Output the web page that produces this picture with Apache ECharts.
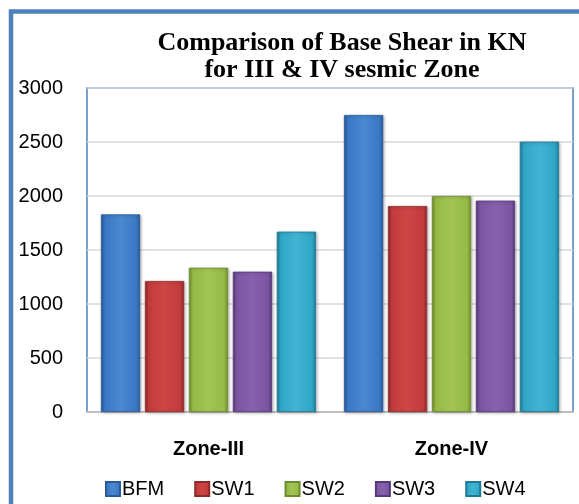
<!DOCTYPE html>
<html>
<head>
<meta charset="utf-8">
<script src="https://cdn.jsdelivr.net/npm/echarts@6/dist/echarts.min.js"></script>
<style>
html,body{margin:0;padding:0;background:#fff;}
#chart{width:579px;height:504px;}
</style>
</head>
<body>
<div id="chart"></div>
<script>
// ---- data ----
var categories = ['Zone-III', 'Zone-IV'];
var seriesNames = ['BFM', 'SW1', 'SW2', 'SW3', 'SW4'];
var BFM = [1830, 2750];
var SW1 = [1213, 1907];
var SW2 = [1336, 2000];
var SW3 = [1299, 1957];
var SW4 = [1670, 2503];
var yTicks = [0, 500, 1000, 1500, 2000, 2500, 3000];
var titleLines = ['Comparison of Base Shear in KN', 'for III & IV sesmic Zone'];

// ---- styles ----
var palette = [
  {base: '#3A78C4', edge: '#285A9C', light: '#4A88D2'},
  {base: '#C23B3B', edge: '#8F2A2A', light: '#CD4745'},
  {base: '#95BA46', edge: '#6E8C2F', light: '#A2C555'},
  {base: '#7B55A1', edge: '#563A78', light: '#8761AD'},
  {base: '#30A6C6', edge: '#1F7A94', light: '#42B4D3'}
];
function grad(p) {
  return new echarts.graphic.LinearGradient(0, 0, 1, 0, [
    {offset: 0, color: p.edge},
    {offset: 0.1, color: p.base},
    {offset: 0.5, color: p.light},
    {offset: 0.9, color: p.base},
    {offset: 1, color: p.edge}
  ]);
}
var dataArr = [BFM, SW1, SW2, SW3, SW4];
var series = dataArr.map(function (d, i) {
  return {
    name: seriesNames[i],
    type: 'bar',
    data: d,
    barGap: '12%',
    barCategoryGap: '11.5%',
    itemStyle: {
      color: grad(palette[i]),
      borderColor: palette[i].edge,
      borderWidth: 0.8,
      shadowColor: 'rgba(0,0,0,0.25)',
      shadowBlur: 3,
      shadowOffsetX: 1,
      shadowOffsetY: 1
    }
  };
});

var chart = echarts.init(document.getElementById('chart'), null, {renderer: 'canvas'});
chart.setOption({
  animation: false,
  backgroundColor: '#fff',
  color: palette.map(function (p) { return p.base; }),
  title: {
    text: titleLines.join('\n'),
    left: 337,
    textAlign: 'center',
    top: 25,
    textStyle: {
      fontFamily: 'Liberation Serif',
      fontWeight: 'bold',
      fontSize: 26,
      lineHeight: 27,
      color: '#000'
    }
  },
  graphic: [{
    type: 'rect',
    shape: {x: 11, y: 11.5, width: 700, height: 700},
    style: {fill: 'none', stroke: '#4F81BD', lineWidth: 4.5},
    silent: true
  }],
  legend: {
    data: seriesNames,
    left: 100,
    top: 474,
    itemWidth: 14,
    itemHeight: 14,
    itemGap: 30,
    icon: 'rect',
    textStyle: {fontFamily: 'Liberation Sans', fontSize: 20, color: '#000', padding: [0, 0, 0, -3]}
  },
  grid: {
    left: 87, top: 88, right: 6, bottom: 92,
    show: true,
    borderColor: '#4F81BD',
    borderWidth: 1.5,
    backgroundColor: 'transparent'
  },
  xAxis: {
    type: 'category',
    data: categories,
    axisLine: {show: true, lineStyle: {color: '#BFBFBF', width: 2}},
    axisTick: {show: false},
    axisLabel: {
      margin: 27,
      fontFamily: 'Liberation Sans',
      fontWeight: 'bold',
      fontSize: 20,
      color: '#000'
    }
  },
  yAxis: {
    type: 'value',
    min: yTicks[0],
    max: yTicks[yTicks.length - 1],
    interval: yTicks[1] - yTicks[0],
    axisLine: {show: false},
    axisTick: {show: false},
    splitLine: {lineStyle: {color: '#D9D9D9', width: 1.5}},
    axisLabel: {
      margin: 24,
      fontFamily: 'Liberation Sans',
      fontSize: 20,
      color: '#000',
      formatter: function (v) { return String(v); }
    }
  },
  series: series
});
</script>
</body>
</html>
